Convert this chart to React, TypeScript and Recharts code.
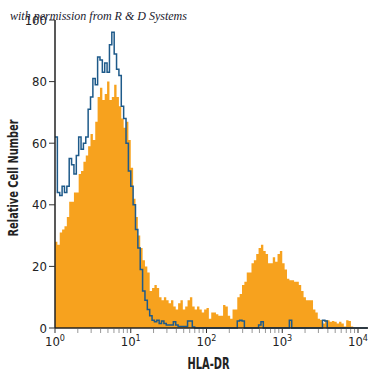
import React from 'react';
import { ComposedChart, Area, Line, XAxis, YAxis } from 'recharts';

// Histogram bins: 32 channels per decade, starting at 10^0
const BINS_PER_DECADE = 32;

// Orange filled histogram (HLA-DR antibody)
const ORANGE = [
  28, 27, 31, 32, 33, 36, 41, 41, 44, 44,
  50, 51, 54, 56, 59, 63, 61, 67, 75, 78,
  74, 76, 80, 74, 75, 79, 75, 72, 68, 65,
  67, 61, 52, 42, 36, 30, 26, 22, 20, 18,
  12, 13, 14, 13, 10, 9, 10, 9, 8, 9,
  7, 6, 8, 9, 6, 7, 9, 10, 7, 6,
  7, 6, 5, 6, 6.5, 3, 5, 5, 4.5, 4,
  4, 7.5, 7, 4, 3, 6, 6, 10, 11, 14,
  15, 18, 18, 21, 22, 24, 26, 27, 25, 24,
  21, 21, 23, 21.5, 24, 25, 21, 19, 16, 15.5,
  15.5, 15, 15, 14, 12, 10, 9, 9, 9, 6,
  5, 3, 2.6, 1.5, 2.6, 2.5, 2, 2.3, 2, 1.5,
  2, 1.5, 0.5, 2.5, 2.3, 0.5, 0, 0, 0, 0,
  0, 0,
];

// Blue outline histogram (isotype control)
const BLUE = [
  62, 44, 43, 46, 44, 46, 55, 53, 50, 56,
  62, 58, 60, 62, 71, 75, 81, 79, 88, 87,
  83, 86, 83, 92, 96, 89, 84, 82, 72, 68,
  60, 51, 46, 40, 32, 26, 19, 12, 9, 6,
  4, 2.5, 2, 2.5, 1.5, 2.3, 1.5, 1, 1, 1,
  2, 1, 0.5, 0.5, 0.5, 0.5, 2.3, 2.3, 0.3, 0,
  0, 0, 0, 0, 0, 0, 0, 0, 0, 0,
  0, 0, 0, 0, 0, 0, 0, 2.3, 2.5, 2.3,
  0, 0, 0, 0, 0, 0, 1, 2, 0, 0,
  0, 0, 0, 0, 0, 0, 0, 0, 0, 2.5,
  0, 0, 0, 0, 0, 0, 0, 0, 0, 0,
  0, 0, 0, 2.5, 2.3, 0, 0, 0, 0, 0,
  0, 0, 0, 0, 0, 0, 0, 0, 0, 0,
  0, 0,
];

const Y_TICKS = [0, 20, 40, 60, 80, 100];
const DECADES = [1, 10, 100, 1000, 10000];
const EXPONENTS = ['0', '1', '2', '3', '4'];
const MINOR_MULTIPLIERS = [2, 3, 4, 5, 6, 7, 8, 9];
const X_TICKS = DECADES.flatMap((d, i) =>
  i < DECADES.length - 1 ? [d, ...MINOR_MULTIPLIERS.map((m) => m * d)] : [d]
);

const data = [...ORANGE, 0].map((_, i) => ({
  x: Math.pow(10, i / BINS_PER_DECADE),
  orange: i < ORANGE.length ? ORANGE[i] : 0,
  blue: i < BLUE.length ? BLUE[i] : 0,
}));

const FONT = "'Liberation Sans Narrow', 'DejaVu Sans Condensed', 'Roboto', sans-serif";

const XTick = (props: any) => {
  const { x, y, payload } = props;
  const idx = DECADES.indexOf(payload.value);
  if (idx >= 0) {
    return (
      <g>
        <line x1={x} x2={x} y1={y} y2={y + 5} stroke="#333" strokeWidth={1} />
        <text x={x} y={y + 18} textAnchor="middle" fontFamily={FONT} fontSize={13} fill="#222">
          <tspan>10</tspan>
          <tspan dy={-5} fontSize={9}>{EXPONENTS[idx]}</tspan>
        </text>
      </g>
    );
  }
  return <line x1={x} x2={x} y1={y + 1} y2={y + 5} stroke="#999" strokeWidth={1} />;
};

export default function App() {
  return (
    <div style={{ position: 'absolute', left: 0, top: 0, width: 375, height: 375, background: '#fff' }}>
      <ComposedChart
        width={375}
        height={375}
        data={data}
        margin={{ top: 20, right: 7, bottom: 7, left: 0 }}
      >
        <XAxis
          dataKey="x"
          type="number"
          scale="log"
          domain={[1, 13550]}
          allowDataOverflow
          ticks={X_TICKS}
          interval={0}
          tick={<XTick />}
          tickLine={false}
          tickSize={0}
          tickMargin={0}
          height={40}
          axisLine={{ stroke: '#222', strokeWidth: 1.5 }}
          label={{
            content: (p: any) => {
              const vb = p.viewBox;
              return (
                <text
                  x={vb.x + vb.width / 2 - 3}
                  y={vb.y + vb.height + 1}
                  textAnchor="middle"
                  fontFamily={FONT}
                  fontSize={15}
                  fontWeight="bold"
                  fill="#222"
                  textLength={42}
                  lengthAdjust="spacingAndGlyphs"
                >
                  HLA-DR
                </text>
              );
            },
          }}
        />
        <YAxis
          type="number"
          domain={[0, 100]}
          ticks={Y_TICKS}
          interval={0}
          width={55}
          tickSize={6}
          tickMargin={2}
          tickLine={{ stroke: '#333' }}
          axisLine={{ stroke: '#222', strokeWidth: 1.5 }}
          tick={{ fontFamily: FONT, fontSize: 13, fill: '#222' }}
          label={{
            content: (p: any) => {
              const vb = p.viewBox;
              const cx = vb.x + 18;
              const cy = vb.y + vb.height / 2 + 4;
              return (
                <text
                  x={cx}
                  y={cy}
                  transform={`rotate(-90, ${cx}, ${cy})`}
                  textAnchor="middle"
                  fontFamily={FONT}
                  fontSize={14}
                  fontWeight="bold"
                  fill="#222"
                  textLength={117}
                  lengthAdjust="spacingAndGlyphs"
                >
                  Relative Cell Number
                </text>
              );
            },
          }}
        />
        <Area
          dataKey="orange"
          type="stepAfter"
          fill="#F7A21E"
          fillOpacity={1}
          stroke="none"
          isAnimationActive={false}
        />
        <Line
          dataKey="blue"
          type="stepAfter"
          stroke="#1E5A8A"
          strokeWidth={1.5}
          dot={false}
          isAnimationActive={false}
        />
      </ComposedChart>
      <div
        style={{
          position: 'absolute',
          left: 10,
          top: 10,
          fontFamily: "'Liberation Serif', 'DejaVu Serif', serif",
          fontStyle: 'italic',
          fontSize: 12,
          lineHeight: '12px',
          color: '#1a1a2e',
          whiteSpace: 'nowrap',
        }}
      >
        with permission from R &amp; D Systems
      </div>
    </div>
  );
}
